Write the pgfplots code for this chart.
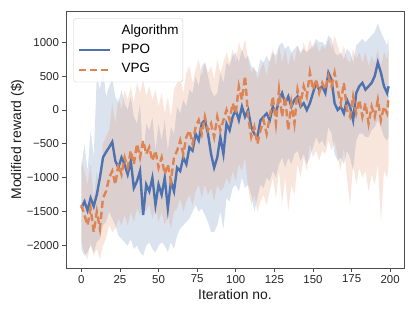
\documentclass[border=0pt]{standalone}
\usepackage{pgfplots}
\pgfplotsset{compat=1.18}
\usepackage{pgfplotstable}
\usepgfplotslibrary{fillbetween}
\usepackage{fontspec}
\setmainfont{Liberation Sans}
\definecolor{sbblue}{RGB}{76,114,176}
\definecolor{sborange}{RGB}{221,132,82}
\pgfplotstableread{
x P Pl Ph V Vl Vh
0 -1450 -2050 -850 -1400 -1950 -750
2 -1350 -2150 -500 -1550 -2100 -900
4 -1480 -2100 -900 -1700 -2200 -1100
6 -1300 -2000 -300 -1450 -1950 -800
8 -1420 -2100 -700 -1800 -2150 -1300
10 -1250 -1950 500 -1500 -2050 -900
12 -1000 -1900 300 -1750 -2200 -1200
14 -700 -1700 600 -1300 -2000 -500
16 -620 -1650 200 -1200 -1900 -400
18 -550 -1500 350 -1000 -1700 -300
20 -470 -1600 450 -900 -1800 100
22 -750 -1700 200 -1100 -1750 -200
24 -850 -1850 100 -800 -1600 200
26 -700 -1900 300 -950 -1700 0
28 -800 -1950 100 -700 -1550 300
30 -950 -2000 0 -850 -1700 150
32 -750 -1900 200 -600 -1500 350
34 -1150 -2050 -100 -800 -1650 100
36 -1050 -2000 -200 -500 -1450 400
38 -900 -2100 100 -700 -1550 250
40 -1550 -2150 -700 -450 -1350 450
42 -1100 -2000 -200 -650 -1500 200
44 -1200 -1950 -300 -550 -1400 350
46 -1000 -2050 -100 -750 -1600 150
48 -1400 -2100 -600 -600 -1450 300
50 -1100 -2000 -200 -850 -1650 50
52 -1250 -1950 -450 -700 -1500 250
54 -1000 -2000 -150 -950 -1700 -50
56 -1450 -2100 -600 -800 -1550 200
58 -1050 -1950 -250 -1050 -1750 -100
60 -1200 -2050 -350 -700 -1500 300
62 -850 -1850 50 -600 -1450 400
64 -900 -1750 -50 -450 -1300 500
66 -700 -1700 150 -650 -1500 250
68 -800 -1650 50 -400 -1350 550
70 -550 -1600 300 -300 -1250 650
72 -600 -1500 250 -500 -1400 400
74 -350 -1400 500 -250 -1200 600
76 -450 -1500 350 -150 -1100 750
78 -200 -1450 650 -350 -1300 500
80 -150 -1550 700 -100 -1100 700
82 -350 -1650 500 -300 -1250 550
84 -650 -1800 300 -200 -1150 650
86 -850 -1800 200 -400 -1350 450
88 -700 -1700 250 -100 -1100 750
90 -400 -1500 550 -300 -1200 550
92 -650 -1750 400 -150 -1150 700
94 -200 -1300 700 0 -1000 850
96 -300 -1350 650 -150 -1100 700
98 -100 -1150 800 100 -900 900
100 0 -1100 850 -50 -1050 700
102 -150 -1200 700 350 -800 1000
104 50 -1000 900 150 -900 850
106 -100 -1150 750 500 -700 1050
108 0 -1100 800 -100 -1150 750
110 -250 -1250 650 -400 -1400 550
112 -350 -1500 600 -250 -1250 650
114 -400 -1300 550 -500 -1500 450
116 -150 -1100 750 -300 -1350 600
118 -100 -1150 700 -150 -1250 700
120 -50 -1000 800 -350 -1400 500
122 -150 -1050 700 -100 -1200 750
124 50 -900 850 200 -1000 900
126 -50 -1000 800 -200 -1300 650
128 150 -800 950 300 -900 950
130 250 -700 1000 -100 -1400 700
132 100 -850 900 200 -1000 900
134 200 -700 950 -300 -1500 650
136 50 -800 850 100 -1100 850
138 150 -650 900 -200 -1250 700
140 200 -600 950 300 -800 950
142 50 -750 850 100 -1000 800
144 100 -650 900 350 -700 1000
146 0 -800 850 200 -900 850
148 100 -700 900 550 -500 1050
150 250 -550 950 300 -700 900
152 400 -400 1050 450 -600 1000
154 300 -500 1000 250 -750 850
156 350 -450 1000 400 -600 950
158 250 -550 950 300 -650 900
160 550 -250 1100 500 -450 1050
162 450 -350 1050 350 -600 900
164 100 -650 850 550 -450 1100
166 0 -750 800 300 -700 950
168 50 -700 850 100 -900 800
170 -50 -800 750 400 -550 950
172 150 -600 900 0 -1000 750
174 50 -700 850 -100 -1400 700
176 -150 -900 700 200 -800 900
178 250 -450 950 -50 -1100 750
180 350 -350 1000 150 -850 850
182 400 -350 1050 -100 -1000 700
184 300 -400 1000 100 -900 850
186 350 -400 1050 -200 -1200 650
188 400 -300 1100 50 -950 800
190 500 -250 1150 -100 -1100 700
192 700 -150 1280 150 -800 900
194 550 -250 1150 -150 -1650 650
196 350 -400 1050 50 -900 850
198 250 -450 950 -50 -1000 750
199 350 -400 1050 200 -800 900
}\data
\begin{document}
\begin{tikzpicture}
\begin{axis}[
  at={(0,0)}, anchor=south west,
  scale only axis, width=338bp, height=257bp,
  xmin=-9.95, xmax=208.95, ymin=-2330, ymax=1460,
  xtick={0,25,...,200}, ytick={-2000,-1500,-1000,-500,0,500,1000},
  yticklabels={−2000,−1500,−1000,−500,0,500,1000},
  /pgf/number format/assume math mode=true,
  /pgf/number format/set thousands separator={},
  tick label style={font=\fontsize{11.5}{13}\selectfont, text=black!85},
  axis line style={black!70, line width=0.9bp},
  tick style={black!70, line width=0.9bp},
  major tick length=3.5bp,
  tick align=outside,
  xtick pos=left, ytick pos=left,
  xlabel={Iteration no.}, ylabel={Modified reward (\$)},
  every axis x label/.style={at={(axis description cs:0.5,-0.105)}, anchor=center,
    font=\fontsize{14}{16}\selectfont, text=black!90},
  every axis y label/.style={at={(axis description cs:-0.1435,0.5)}, rotate=90, anchor=center,
    font=\fontsize{14}{16}\selectfont, text=black!90},
  legend style={at={(0.0216,0.9716)}, anchor=north west, draw=black!20, fill=white,
    fill opacity=0.8, text opacity=1, rounded corners=2.5bp,
    font=\fontsize{13.5}{15}\selectfont, inner xsep=4.4bp, inner ysep=6bp,
    row sep=6.7bp, column sep=10.6bp,
    nodes={inner sep=0bp, text height=9.7bp, text depth=3bp}},
  legend cell align=left,
  legend image code/.code={\draw[#1] (0bp,0bp) -- (31bp,0bp);},
]
\addplot[name path=phi, draw=none, forget plot] table[x=x, y=Ph] {\data};
\addplot[name path=plo, draw=none, forget plot] table[x=x, y=Pl] {\data};
\addplot[fill=sbblue, fill opacity=0.2, draw=none, forget plot] fill between[of=phi and plo];
\addplot[name path=vhi, draw=none, forget plot] table[x=x, y=Vh] {\data};
\addplot[name path=vlo, draw=none, forget plot] table[x=x, y=Vl] {\data};
\addplot[fill=sborange, fill opacity=0.2, draw=none, forget plot] fill between[of=vhi and vlo];
\addplot[sbblue, line width=2.4bp, forget plot] table[x=x, y=P] {\data};
\addplot[sborange, line width=2.4bp, dash pattern=on 7.2bp off 3.8bp, forget plot] table[x=x, y=V] {\data};
\addlegendimage{white, opacity=0, line width=0bp}\addlegendentry{Algorithm}
\addlegendimage{sbblue, line width=2.2bp}\addlegendentry{PPO}
\addlegendimage{sborange, line width=2.2bp, dash pattern=on 7.2bp off 3.8bp}\addlegendentry{VPG}
\end{axis}
\pgfresetboundingbox
\path[use as bounding box] (-66bp,-44bp) rectangle (349bp,268bp);
\end{tikzpicture}
\end{document}
